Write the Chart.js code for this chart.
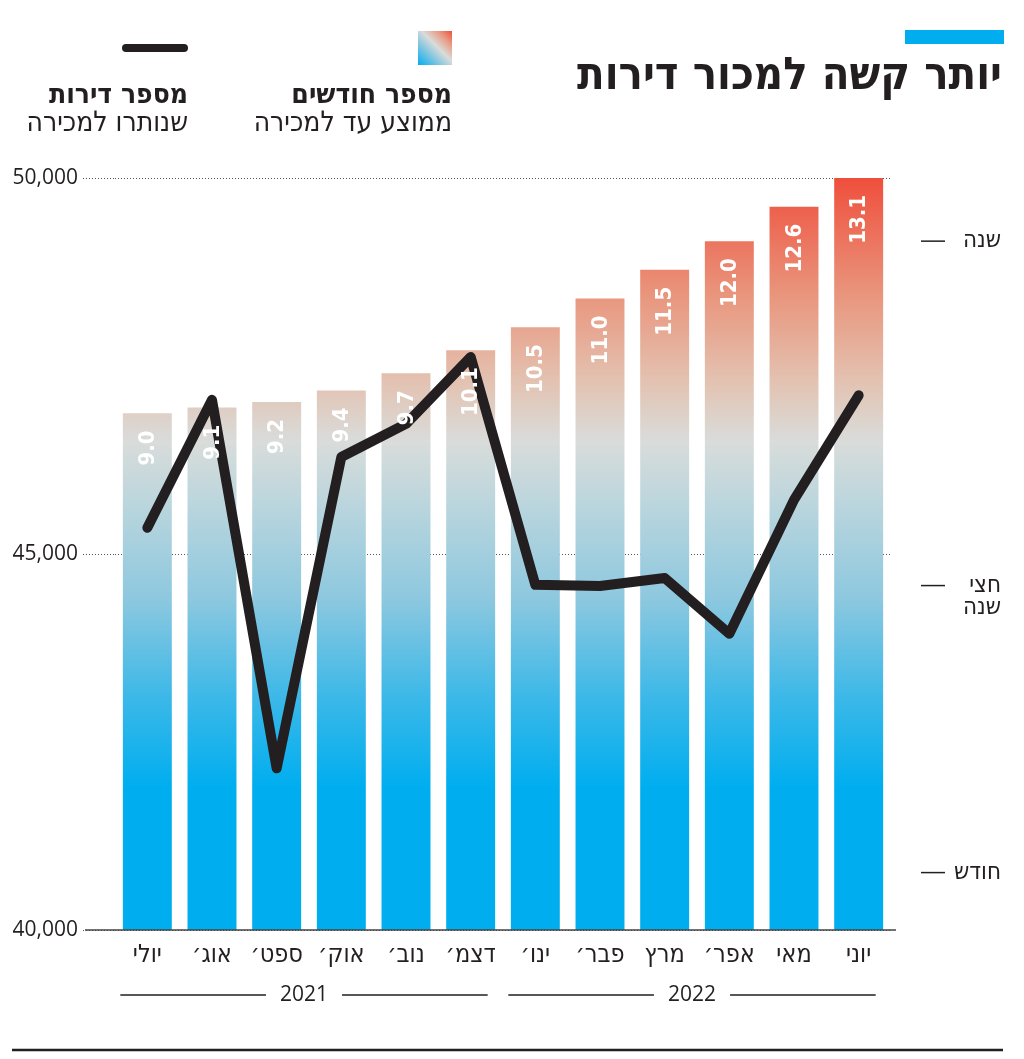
<!DOCTYPE html>
<html lang="he">
<head>
<meta charset="utf-8">
<script src="https://cdn.jsdelivr.net/npm/chart.js@4.4.0/dist/chart.umd.min.js"></script>
<style>
  body { margin: 0; background: #fff; width: 1024px; height: 1059px; overflow: hidden; position: relative;
         font-family: 'DejaVu Sans Condensed', 'DejaVu Sans', sans-serif; color: #231f20; }
  #graphique { position: absolute; left: 0; top: 0; }
  .abs { position: absolute; direction: rtl; white-space: nowrap; line-height: 1; }
  .gras { font-weight: bold; }
</style>
</head>
<body>
<canvas id="graphique" width="1024" height="1059"></canvas>

<div class="abs" style="left:905px; top:30px; width:99px; height:14px; background:#00aeef;"></div>
<div class="abs gras" style="right:22px; top:51px; font-size:45px;">יותר קשה למכור דירות</div>

<div class="abs" style="left:418px; top:31px; width:34px; height:34px;
     background:linear-gradient(45deg, #00aeef 0%, #8dc8df 35%, #d9dcda 55%, #e9977f 80%, #ef4f3c 100%);"></div>
<div class="abs gras" style="right:572px; top:80px; font-size:28px;">מספר חודשים</div>
<div class="abs" style="right:572px; top:108px; font-size:28px;">ממוצע עד למכירה</div>

<div class="abs" style="left:122px; top:44px; width:66px; height:8px; border-radius:4px; background:#231f20;"></div>
<div class="abs gras" style="right:836px; top:80px; font-size:28px;">מספר דירות</div>
<div class="abs" style="right:836px; top:108px; font-size:28px;">שנותרו למכירה</div>

<script>
// données
let mois = ["יולי", "אוג׳", "ספט׳", "אוק׳", "נוב׳", "דצמ׳", "ינו׳", "פבר׳", "מרץ", "אפר׳", "מאי", "יוני"];
let moisMoyens = [9.0, 9.1, 9.2, 9.4, 9.7, 10.1, 10.5, 11.0, 11.5, 12.0, 12.6, 13.1];
let appartsRestants = [45350, 47050, 42150, 46290, 46730, 47620, 44590, 44575, 44680, 43940, 45720, 47110];
let ticksGauche = [40000, 45000, 50000];
let ticksDroite = [1, 6, 12];
let labelsDroite = [["חודש"], ["חצי", "שנה"], ["שנה"]];
let annees = [
    { label: "2021", debut: 0, fin: 5 },
    { label: "2022", debut: 6, fin: 11 }
];

const POLICE = "'DejaVu Sans Condensed', 'DejaVu Sans', sans-serif";
const POLICE_CHIFFRES = "'Open Sans', 'DejaVu Sans Condensed', sans-serif";
const NOIR = "#231f20";

function degradeBarres(context) {
    let chart = context.chart;
    let zone = chart.chartArea;
    if (!zone) return "#00aeef";
    let g = chart.ctx.createLinearGradient(0, zone.bottom, 0, zone.top);
    g.addColorStop(0, "#00aeef");
    g.addColorStop(0.19, "#00aeef");
    g.addColorStop(0.31, "#3cb8e8");
    g.addColorStop(0.44, "#8dc8df");
    g.addColorStop(0.57, "#bcd6dd");
    g.addColorStop(0.65, "#d9dcda");
    g.addColorStop(0.73, "#e3c2b1");
    g.addColorStop(0.84, "#e9977f");
    g.addColorStop(1, "#ef4f3c");
    return g;
}

// étiquettes, ligne de base, échelle de droite, années
const decorations = {
    id: "decorations",
    afterDatasetsDraw(chart) {
        let ctx = chart.ctx;
        let x = chart.scales.x;
        let y = chart.scales.y;
        let y2 = chart.scales.y2;
        let zone = chart.chartArea;

        // valeurs dans les barres
        let meta = chart.getDatasetMeta(0);
        ctx.save();
        ctx.fillStyle = "#fff";
        ctx.font = "bold 22px " + POLICE;
        ctx.textAlign = "right";
        ctx.textBaseline = "middle";
        meta.data.forEach(function (barre, i) {
            ctx.save();
            ctx.translate(barre.x, barre.y + 17);
            ctx.rotate(-Math.PI / 2);
            ctx.fillText(moisMoyens[i].toFixed(1), 0, 1);
            ctx.restore();
        });
        ctx.restore();

        // ligne de base
        let yBase = y.getPixelForValue(ticksGauche[0]);
        ctx.save();
        ctx.strokeStyle = "#444";
        ctx.lineWidth = 1.5;
        ctx.beginPath();
        ctx.moveTo(85, yBase);
        ctx.lineTo(zone.right + 5, yBase);
        ctx.stroke();
        ctx.restore();

        // échelle de droite
        ctx.save();
        ctx.fillStyle = NOIR;
        ctx.strokeStyle = NOIR;
        ctx.lineWidth = 1.5;
        ctx.font = "24px " + POLICE;
        ctx.textAlign = "right";
        ctx.textBaseline = "middle";
        ctx.direction = "rtl";
        ticksDroite.forEach(function (v, i) {
            let py = y2.getPixelForValue(v);
            ctx.beginPath();
            ctx.moveTo(921, py);
            ctx.lineTo(945, py);
            ctx.stroke();
            labelsDroite[i].forEach(function (ligne, j) {
                ctx.fillText(ligne, 1001, py + j * 22);
            });
        });
        ctx.restore();

        // années
        ctx.save();
        ctx.fillStyle = NOIR;
        ctx.strokeStyle = NOIR;
        ctx.lineWidth = 1.5;
        ctx.font = "21px " + POLICE_CHIFFRES;
        ctx.textAlign = "center";
        ctx.textBaseline = "middle";
        let yAn = 995;
        annees.forEach(function (a) {
            let gauche = x.getPixelForValue(a.debut) - 27;
            let droite = x.getPixelForValue(a.fin) + 17;
            let centre = (gauche + droite) / 2;
            let demi = ctx.measureText(a.label).width / 2 + 14;
            ctx.beginPath();
            ctx.moveTo(gauche, yAn);
            ctx.lineTo(centre - demi, yAn);
            ctx.moveTo(centre + demi, yAn);
            ctx.lineTo(droite, yAn);
            ctx.stroke();
            ctx.fillText(a.label, centre, yAn);
        });

        // trait du bas
        ctx.lineWidth = 2.5;
        ctx.beginPath();
        ctx.moveTo(12, 1050);
        ctx.lineTo(1003, 1050);
        ctx.stroke();
        ctx.restore();
    }
};

let ctxGraph = document.getElementById("graphique").getContext("2d");
let chart = new Chart(ctxGraph, {
    data: {
        labels: mois,
        datasets: [
            {
                type: "bar",
                label: "מספר חודשים",
                data: moisMoyens,
                yAxisID: "y2",
                backgroundColor: degradeBarres,
                barPercentage: 0.757,
                categoryPercentage: 1,
                order: 2
            },
            {
                type: "line",
                label: "מספר דירות",
                data: appartsRestants,
                yAxisID: "y",
                borderColor: NOIR,
                borderWidth: 10,
                borderCapStyle: "round",
                borderJoinStyle: "round",
                pointRadius: 0,
                tension: 0,
                order: 1
            }
        ]
    },
    options: {
        responsive: false,
        animation: false,
        layout: { padding: { top: 178, right: 133, left: 0, bottom: 0 } },
        plugins: {
            legend: { display: false },
            tooltip: { enabled: false }
        },
        scales: {
            x: {
                grid: { display: false },
                border: { display: false },
                ticks: {
                    color: NOIR,
                    padding: 2,
                    font: { family: POLICE, size: 25 }
                },
                afterFit: function (scale) { scale.height = 129; }
            },
            y: {
                position: "left",
                min: 40000,
                max: 50000,
                afterBuildTicks: function (scale) {
                    scale.ticks = ticksGauche.map(function (v) { return { value: v }; });
                },
                ticks: {
                    color: NOIR,
                    padding: 5,
                    font: { family: POLICE_CHIFFRES, size: 21 },
                    callback: function (v) { return v.toLocaleString("en-US"); }
                },
                grid: {
                    color: "#555",
                    lineWidth: 1,
                    tickLength: 32,
                    tickColor: "#555",
                    tickBorderDash: [1, 2]
                },
                border: { display: false, dash: [1, 2] },
                afterFit: function (scale) { scale.width = 115; }
            },
            y2: {
                display: false,
                position: "right",
                min: 0,
                max: 13.1
            }
        }
    },
    plugins: [decorations]
});
</script>
</body>
</html>
